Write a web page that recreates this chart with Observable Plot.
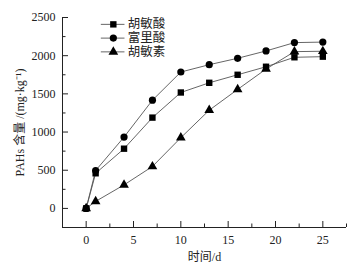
<!DOCTYPE html>
<html><head><meta charset="utf-8">
<script src="https://cdn.jsdelivr.net/npm/d3@7"></script>
<script src="https://cdn.jsdelivr.net/npm/@observablehq/plot@0.6"></script>
<style>body{margin:0;background:#fff}</style>
</head><body><div id="chart"></div>
<script>
const days = [0, 1, 4, 7, 10, 13, 16, 19, 22, 25];
const humicAcid = [0, 460, 782, 1189, 1518, 1645, 1750, 1855, 1979, 1987];   // 胡敏酸 square
const fulvicAcid = [0, 496, 934, 1417, 1786, 1882, 1966, 2062, 2171, 2178];  // 富里酸 circle
const humin = [0, 92, 308, 549, 926, 1286, 1558, 1825, 2053, 2058];          // 胡敏素 triangle
const seriesNames = ["胡敏酸", "富里酸", "胡敏素"];
const seriesSymbols = ["square", "circle", "triangle"];
const xTicks = [0, 5, 10, 15, 20, 25];
const yTicks = [0, 500, 1000, 1500, 2000, 2500];

const allSeries = [humicAcid, fulvicAcid, humin];
const data = allSeries.flatMap((vals, i) => days.map((d, j) => ({day: d, value: vals[j], series: seriesNames[i]})));
const legend = seriesNames.map((s, i) => ({series: s, y: [2410, 2230, 2050][i]}));

const xMinor = d3.range(-2.5, 27.51, 2.5).filter(v => !xTicks.includes(v));
const yMinor = d3.range(-250, 2501, 250).filter(v => !yTicks.includes(v));
const font = "'Liberation Serif', 'Times New Roman', 'Noto Sans CJK SC', serif";

const plot = Plot.plot({
  width: 358, height: 265,
  marginLeft: 62, marginRight: 12, marginTop: 17, marginBottom: 38,
  style: {fontFamily: font, fontSize: "12px", color: "#222", background: "#fff"},
  x: {domain: [-2.5, 27.5]},
  y: {domain: [-250, 2500]},
  symbol: {domain: seriesNames, range: seriesSymbols},
  marks: [
    Plot.ruleX([-2.5], {y1: -250, y2: 2500, stroke: "#222", strokeWidth: 1}),
    Plot.ruleY([-250], {x1: -2.5, x2: 27.5, stroke: "#222", strokeWidth: 1}),
    Plot.axisX({ticks: xTicks, tickSize: -6, text: null, label: null, stroke: "#222"}),
    Plot.axisX({ticks: xMinor, tickSize: -3.5, text: null, label: null, stroke: "#222"}),
    Plot.axisX({ticks: xTicks, tickSize: 0, tickPadding: 8, tickFormat: d3.format("d"), fontSize: 12, label: "时间/d", labelAnchor: "center", labelOffset: 33, labelArrow: "none"}),
    Plot.axisY({ticks: yTicks, tickSize: -6, text: null, label: null, stroke: "#222"}),
    Plot.axisY({ticks: yMinor, tickSize: -3.5, text: null, label: null, stroke: "#222"}),
    Plot.axisY({ticks: yTicks, tickSize: 0, tickPadding: 7, tickFormat: d3.format("d"), fontSize: 12, label: "PAHs 含量 /(mg·kg⁻¹)", labelAnchor: "center", labelOffset: 47, labelArrow: "none"}),
    Plot.line(data, {x: "day", y: "value", z: "series", stroke: "#555", strokeWidth: 0.9}),
    Plot.dot(data, {x: "day", y: "value", symbol: "series", fill: "#000", stroke: "none", r: 3.6}),
    Plot.ruleY(legend, {y: "y", x1: 1.6, x2: 4.1, stroke: "#555", strokeWidth: 0.9}),
    Plot.dot(legend, {x: 2.87, y: "y", symbol: "series", fill: "#000", stroke: "none", r: 3.6}),
    Plot.text(legend, {x: 4.4, y: "y", text: "series", textAnchor: "start", fontSize: 12.5, fill: "#222"})
  ]
});
document.getElementById("chart").appendChild(plot);
</script></body></html>
